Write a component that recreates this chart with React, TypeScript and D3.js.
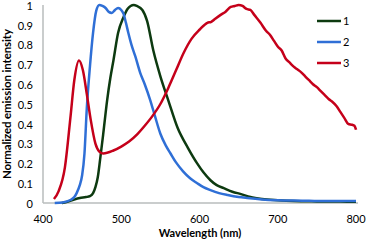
import React from "react";
import * as d3 from "d3";

// emission spectra (wavelength nm, normalized intensity)
const series1: [number, number][] = [
  [424, 0], [430, 0.005], [438, 0.015], [447, 0.025], [455, 0.03], [460, 0.035],
  [464, 0.05], [467, 0.08], [470, 0.13], [473, 0.22], [477, 0.35], [482, 0.52],
  [486, 0.63], [490, 0.72], [496, 0.86], [503, 0.94], [508, 0.98], [512, 0.995],
  [516, 1.0], [520, 0.995], [527, 0.975], [533, 0.92], [541, 0.77], [550, 0.64],
  [560, 0.52], [572, 0.38], [585, 0.28], [597, 0.2], [605, 0.155], [614, 0.115],
  [622, 0.09], [631, 0.075], [642, 0.057], [653, 0.045], [665, 0.03], [680, 0.02],
  [700, 0.014], [720, 0.01], [750, 0.008], [780, 0.007], [800, 0.006],
];

const series2: [number, number][] = [
  [415, 0], [425, 0.003], [435, 0.015], [440, 0.03], [443, 0.05], [447, 0.09],
  [450, 0.14], [453, 0.25], [456, 0.48], [460, 0.69], [464, 0.86], [468, 0.97],
  [472, 1.0], [476, 0.995], [480, 0.985], [484, 0.965], [488, 0.96], [492, 0.975],
  [496, 0.985], [500, 0.975], [503, 0.955], [506, 0.91], [509, 0.86], [513, 0.8],
  [518, 0.74], [524, 0.66], [530, 0.6], [537, 0.52], [543, 0.44], [550, 0.35],
  [557, 0.29], [563, 0.25], [570, 0.205], [579, 0.16], [588, 0.125], [597, 0.1],
  [605, 0.08], [614, 0.065], [625, 0.05], [636, 0.04], [650, 0.03], [661, 0.025],
  [680, 0.018], [700, 0.014], [720, 0.012], [740, 0.011], [760, 0.01], [780, 0.01],
  [800, 0.01],
];

const series3: [number, number][] = [
  [414, 0.02], [420, 0.06], [428, 0.18], [435, 0.43], [440, 0.62], [446, 0.72],
  [451, 0.67], [456, 0.55], [461, 0.42], [467, 0.3], [472, 0.26], [477, 0.25],
  [490, 0.265], [500, 0.285], [510, 0.31], [520, 0.345], [530, 0.39], [540, 0.44],
  [550, 0.5], [560, 0.58], [570, 0.67], [580, 0.76], [590, 0.83], [600, 0.875],
  [610, 0.91], [615, 0.915], [620, 0.93], [627, 0.95], [633, 0.965], [640, 0.99],
  [645, 0.995], [650, 1.0], [655, 0.995], [660, 0.98], [665, 0.975], [670, 0.95],
  [678, 0.91], [685, 0.87], [690, 0.85], [695, 0.82], [700, 0.79], [705, 0.77],
  [710, 0.73], [715, 0.71], [720, 0.69], [725, 0.675], [730, 0.66], [735, 0.64],
  [740, 0.62], [745, 0.6], [750, 0.585], [755, 0.565], [760, 0.545], [765, 0.525],
  [770, 0.51], [775, 0.49], [780, 0.46], [785, 0.43], [790, 0.4], [795, 0.395],
  [798, 0.39], [800, 0.37],
];

const seriesNames = ["1", "2", "3"];
const seriesColors = ["#0d3a10", "#2f6fd6", "#c5001a"];
const xTicks = [400, 500, 600, 700, 800];
const yTicks = [0, 0.1, 0.2, 0.3, 0.4, 0.5, 0.6, 0.7, 0.8, 0.9, 1];

const W = 368;
const H = 241;
const font = "Lato, 'Open Sans', sans-serif";

export default function App() {
  const x = d3.scaleLinear().domain([400, 800]).range([43, 356]);
  const y = d3.scaleLinear().domain([0, 1]).range([203, 5]);
  const line = d3
    .line<[number, number]>()
    .x(d => x(d[0]))
    .y(d => y(d[1]))
    .curve(d3.curveMonotoneX);
  const all = [series1, series2, series3];

  return (
    <svg
      width={W}
      height={H}
      style={{ position: "absolute", left: 0, top: 0, background: "#fff" }}
      fontFamily={font}
    >
      {/* axes */}
      <line x1={43} x2={43} y1={y(1)} y2={y(0)} stroke="#b8bcbc" strokeWidth={1.5} />
      <line x1={43} x2={358} y1={y(0)} y2={y(0)} stroke="#b8bcbc" strokeWidth={1.5} />
      {yTicks.map(t => (
        <text key={t} x={33} y={y(t) + 1} dy="0.35em" textAnchor="end" fontSize={11} fill="#000">
          {String(t)}
        </text>
      ))}
      {xTicks.map(t => (
        <text key={t} x={x(t)} y={223} textAnchor="middle" fontSize={11} fill="#000">
          {t}
        </text>
      ))}
      <text x={200} y={237} textAnchor="middle" fontSize={11} fontWeight="bold">
        Wavelength (nm)
      </text>
      <text
        transform="translate(11,104) rotate(-90)"
        textAnchor="middle"
        fontSize={11.5}
        fontWeight="bold"
        textLength={150}
        lengthAdjust="spacing"
      >
        Normalized emission intensity
      </text>

      {/* spectra */}
      {all.map((s, i) => (
        <path key={i} d={line(s) || ""} fill="none" stroke={seriesColors[i]} strokeWidth={2.5} />
      ))}

      {/* legend */}
      {seriesNames.map((n, i) => (
        <g key={n} transform={`translate(317,${21 + i * 21})`}>
          <line x1={0} x2={24} y1={0} y2={0} stroke={seriesColors[i]} strokeWidth={2.5} />
          <text x={26} y={0} dy="0.35em" fontSize={11}>
            {n}
          </text>
        </g>
      ))}
    </svg>
  );
}
